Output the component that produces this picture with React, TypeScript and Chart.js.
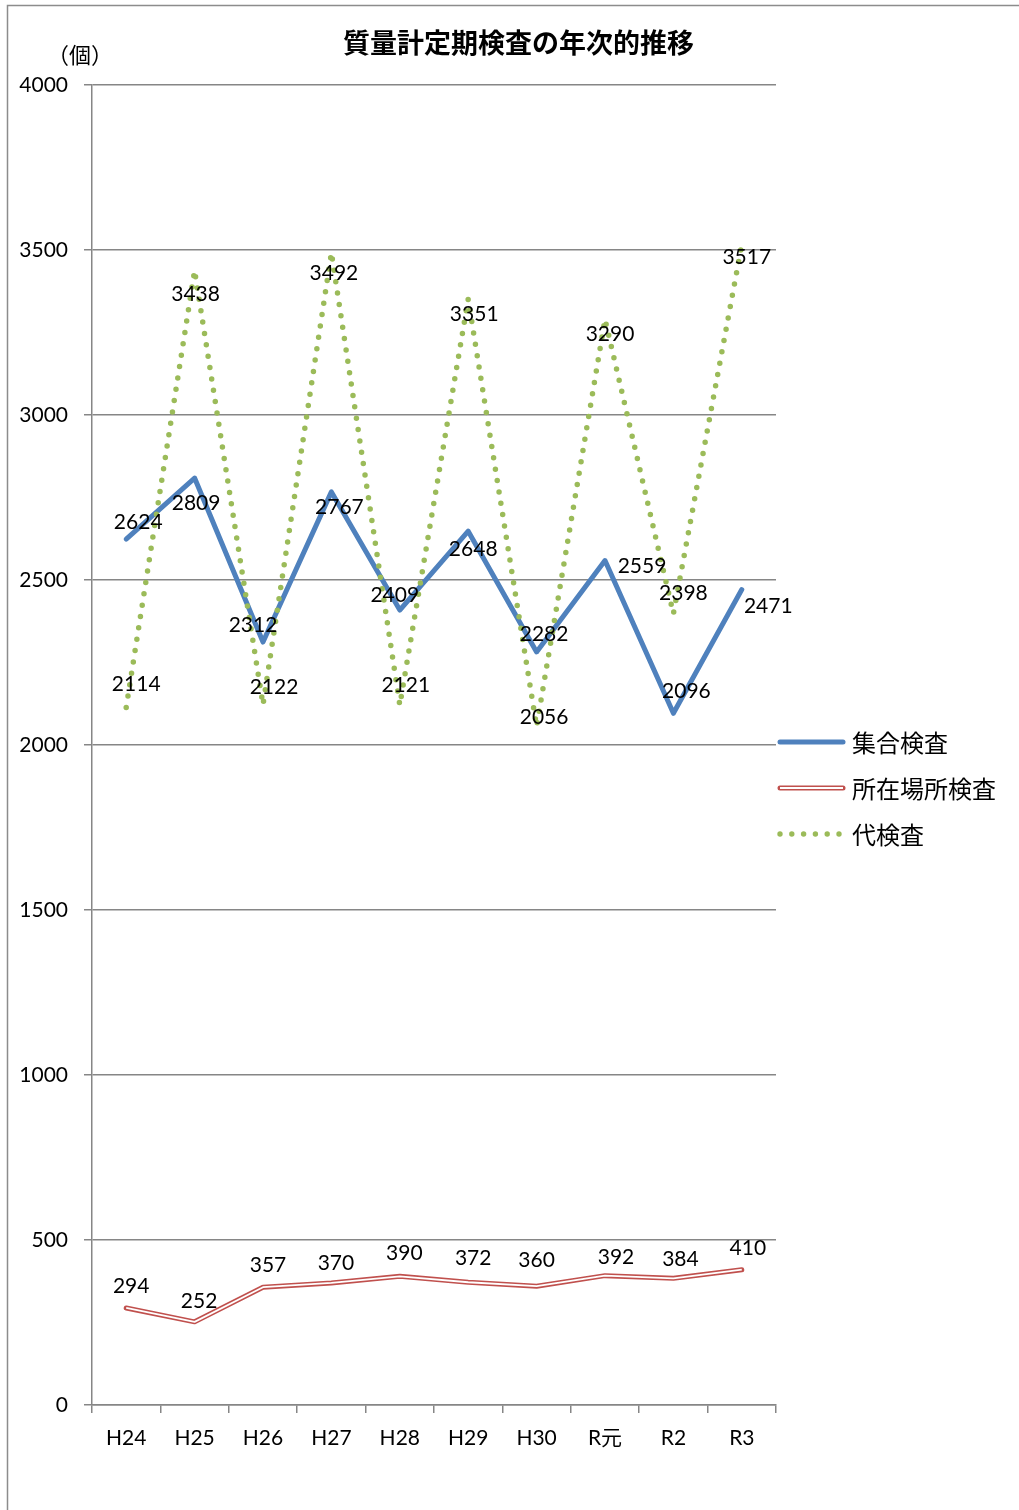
import { useEffect, useRef } from "react";
import { Chart, registerables } from "chart.js";

Chart.register(...registerables);

const categories = ["H24", "H25", "H26", "H27", "H28", "H29", "H30", "R元", "R2", "R3"];
const shugouValues = [2624, 2809, 2312, 2767, 2409, 2648, 2282, 2559, 2096, 2471];
const shozaiValues = [294, 252, 357, 370, 390, 372, 360, 392, 384, 410];
const daiValues = [2114, 3438, 2122, 3492, 2121, 3351, 2056, 3290, 2398, 3517];
const seriesNames = ["集合検査", "所在場所検査", "代検査"];
const titleText = "質量計定期検査の年次的推移";
const unitText = "（個）";

// label offsets (px) relative to each point, as placed in the original
const shugouLabelOffsets = [[12, -17], [1.5, 25], [-10, -17], [8, 15], [-5, -15], [5, 18], [7.5, -18], [37, 6], [13, -22], [26.5, 17]];
const daiLabelOffsets = [[10, -23], [1, 24], [11, -18], [2.5, 21], [6, -20], [6, 15], [7.5, -9.5], [5, 15], [10, -20], [5, 13]];
const shozaiLabelOffsets = [[5, -22], [4.5, -21], [5, -22], [4.5, -20], [4.5, -23], [5, -24], [0, -26], [11, -18], [7, -19], [6, -21]];

const BLUE = "#4f81bd";
const RED = "#c0504d";
const GREEN = "#9bbb59";
const GRID = "#868686";
const NUM_FONT = "Lato, 'Noto Sans CJK JP', sans-serif";
const JP_FONT = "'Noto Sans CJK JP', sans-serif";

export default function App() {
  const ref = useRef<HTMLCanvasElement | null>(null);

  useEffect(() => {
    const canvas = ref.current;
    if (!canvas) return;

    const deco = {
      id: "deco",
      beforeDraw(chart: any) {
        const ctx = chart.ctx;
        ctx.save();
        ctx.fillStyle = "#fff";
        ctx.fillRect(0, 0, chart.width, chart.height);
        ctx.strokeStyle = "#8c8c8c";
        ctx.lineWidth = 1.5;
        ctx.beginPath();
        ctx.moveTo(7.5, chart.height);
        ctx.lineTo(7.5, 5.5);
        ctx.lineTo(chart.width, 5.5);
        ctx.stroke();
        ctx.restore();
      },
      afterDatasetsDraw(chart: any) {
        const ctx = chart.ctx;
        ctx.save();
        ctx.fillStyle = "#000";
        ctx.font = `21px ${NUM_FONT}`;
        ctx.textAlign = "center";
        ctx.textBaseline = "middle";
        const sets: [number, number[], number[][]][] = [
          [0, shugouValues, shugouLabelOffsets],
          [1, shozaiValues, shozaiLabelOffsets],
          [3, daiValues, daiLabelOffsets],
        ];
        for (const [idx, vals, offs] of sets) {
          const meta = chart.getDatasetMeta(idx);
          meta.data.forEach((pt: any, i: number) => {
            ctx.fillText(String(vals[i]), pt.x + offs[i][0], pt.y + offs[i][1]);
          });
        }
        ctx.restore();
      },
      afterDraw(chart: any) {
        const ctx = chart.ctx;
        ctx.save();
        ctx.fillStyle = "#000";
        ctx.textBaseline = "middle";
        ctx.textAlign = "center";
        ctx.font = `bold 27px ${JP_FONT}`;
        ctx.fillText(titleText, 518.5, 43);
        ctx.font = `22px ${JP_FONT}`;
        ctx.fillText(unitText, 80, 55);

        // legend
        const lx0 = 780, lx1 = 843;
        const ys = [742, 788, 834];
        ctx.lineCap = "round";
        ctx.strokeStyle = BLUE;
        ctx.lineWidth = 5;
        ctx.beginPath();
        ctx.moveTo(lx0, ys[0]);
        ctx.lineTo(lx1, ys[0]);
        ctx.stroke();

        ctx.strokeStyle = RED;
        ctx.lineWidth = 5;
        ctx.beginPath();
        ctx.moveTo(lx0, ys[1]);
        ctx.lineTo(lx1, ys[1]);
        ctx.stroke();
        ctx.lineCap = "butt";
        ctx.strokeStyle = "#fff";
        ctx.lineWidth = 2;
        ctx.beginPath();
        ctx.moveTo(lx0, ys[1]);
        ctx.lineTo(lx1, ys[1]);
        ctx.stroke();

        ctx.fillStyle = GREEN;
        for (let k = 0; k < 6; k++) {
          ctx.beginPath();
          ctx.arc(780 + k * 11.8, ys[2], 2.7, 0, Math.PI * 2);
          ctx.fill();
        }

        ctx.fillStyle = "#000";
        ctx.textAlign = "left";
        ctx.font = `24px ${JP_FONT}`;
        seriesNames.forEach((n, i) => ctx.fillText(n, 852, ys[i] + 1));
        ctx.restore();
      },
    };

    const chart = new Chart(canvas, {
      type: "line",
      data: {
        labels: categories,
        datasets: [
          {
            label: seriesNames[0],
            data: shugouValues,
            borderColor: BLUE,
            borderWidth: 5,
            borderCapStyle: "round",
            borderJoinStyle: "round",
            pointRadius: 0,
            tension: 0,
            order: 3,
          },
          {
            label: seriesNames[1],
            data: shozaiValues,
            borderColor: RED,
            borderWidth: 5,
            borderCapStyle: "round",
            borderJoinStyle: "round",
            pointRadius: 0,
            tension: 0,
            order: 2,
          },
          {
            label: seriesNames[1] + "-inner",
            data: shozaiValues,
            borderColor: "#ffffff",
            borderWidth: 1.8,
            borderCapStyle: "butt",
            borderJoinStyle: "round",
            pointRadius: 0,
            tension: 0,
            order: 1,
          },
          {
            label: seriesNames[2],
            data: daiValues,
            borderColor: GREEN,
            borderWidth: 5.5,
            borderDash: [0, 11.5],
            borderCapStyle: "round",
            pointRadius: 0,
            tension: 0,
            order: 0,
          },
        ],
      },
      options: {
        responsive: false,
        animation: false,
        events: [],
        layout: { padding: { left: 0, right: 243, top: 85, bottom: 0 } },
        plugins: {
          legend: { display: false },
          title: { display: false },
          tooltip: { enabled: false },
        },
        scales: {
          x: {
            offset: true,
            afterFit: (s: any) => {
              s.height = 105;
            },
            grid: {
              display: true,
              drawOnChartArea: false,
              drawTicks: true,
              tickLength: 8,
              color: GRID,
              lineWidth: 1.5,
              offset: true,
            },
            border: { display: true, color: GRID, width: 1.5 },
            ticks: {
              color: "#000",
              font: { family: NUM_FONT, size: 21 },
              padding: 13,
              maxRotation: 0,
              autoSkip: false,
            },
          },
          y: {
            min: 0,
            max: 4000,
            afterFit: (s: any) => {
              s.width = 92;
            },
            grid: {
              color: GRID,
              lineWidth: 1.5,
              drawTicks: true,
              tickLength: 8,
            },
            border: { display: true, color: GRID, width: 1.5 },
            ticks: {
              stepSize: 500,
              color: "#000",
              font: { family: NUM_FONT, size: 21 },
              padding: 16,
              callback: (v: any) => String(v),
            },
          },
        },
      },
      plugins: [deco],
    } as any);

    return () => chart.destroy();
  }, []);

  return (
    <canvas
      ref={ref}
      width={1019}
      height={1510}
      style={{ position: "absolute", left: 0, top: 0, width: 1019, height: 1510, display: "block" }}
    />
  );
}
